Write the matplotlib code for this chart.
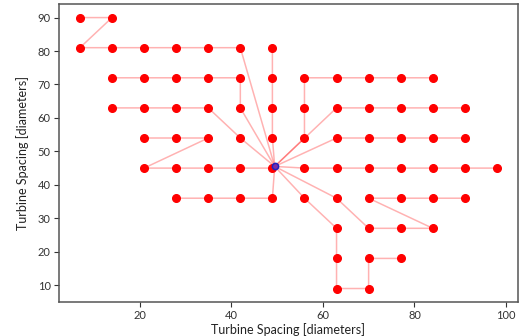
import matplotlib
matplotlib.use("Agg")
import matplotlib.pyplot as plt

# Substation location
substation = (49.5, 45.5)

# Cable strings: turbine coordinates ordered outward from the substation
strings = [
    [(42, 81), (35, 81), (28, 81), (21, 81), (14, 81), (7, 81), (14, 90), (7, 90)],
    [(49, 54), (49, 63), (49, 72), (49, 81)],
    [(42, 63), (42, 72), (35, 72), (28, 72), (21, 72), (14, 72)],
    [(42, 54), (35, 63), (28, 63), (21, 63), (14, 63)],
    [(49, 45), (42, 45), (35, 45), (28, 45), (21, 45), (35, 54), (28, 54), (21, 54)],
    [(49, 36), (42, 36), (35, 36), (28, 36)],
    [(56, 54), (56, 63), (56, 72), (63, 72), (70, 72), (77, 72), (84, 72)],
    [(63, 63), (70, 63), (77, 63), (84, 63), (91, 63)],
    [(63, 54), (70, 54), (77, 54), (84, 54), (91, 54)],
    [(56, 45), (63, 45), (70, 45), (77, 45), (84, 45), (91, 45), (98, 45)],
    [(56, 36), (63, 27), (63, 18), (63, 9), (70, 9), (70, 18), (77, 18)],
    [(63, 36), (70, 27), (77, 27), (84, 27), (70, 36), (77, 36), (84, 36), (91, 36)],
]

x_ticks = [20, 40, 60, 80, 100]
y_ticks = [10, 20, 30, 40, 50, 60, 70, 80, 90]
x_label = "Turbine Spacing [diameters]"
y_label = "Turbine Spacing [diameters]"

plt.rcParams['font.family'] = ['Lato', 'DejaVu Sans']

fig = plt.figure(figsize=(5.23, 3.36), dpi=100)
ax = fig.add_axes([0.113, 0.101, 0.877, 0.887])

for s in strings:
    pts = [substation] + s
    xs = [p[0] for p in pts]
    ys = [p[1] for p in pts]
    ax.plot(xs, ys, color='red', alpha=0.3, lw=1.1, zorder=1)

tx = [p[0] for s in strings for p in s]
ty = [p[1] for s in strings for p in s]
ax.plot(tx, ty, 'o', color='red', markersize=5.5, linestyle='none', zorder=2)
ax.plot([substation[0]], [substation[1]], 'o', markersize=4.5,
        markerfacecolor='#7a2ca8', markeredgecolor='#2020c0', markeredgewidth=1.1, zorder=3)

ax.set_xticks(x_ticks)
ax.set_yticks(y_ticks)
ax.tick_params(labelsize=8, colors='#333333', length=3.5, width=0.8, pad=2.5)
for sp in ax.spines.values():
    sp.set_color('#555555')
    sp.set_linewidth(1.1)
ax.set_xlabel(x_label, fontsize=9, color='#222222', labelpad=1)
ax.set_ylabel(y_label, fontsize=9, color='#222222', labelpad=6)

fig.savefig("out.png", dpi=100)
